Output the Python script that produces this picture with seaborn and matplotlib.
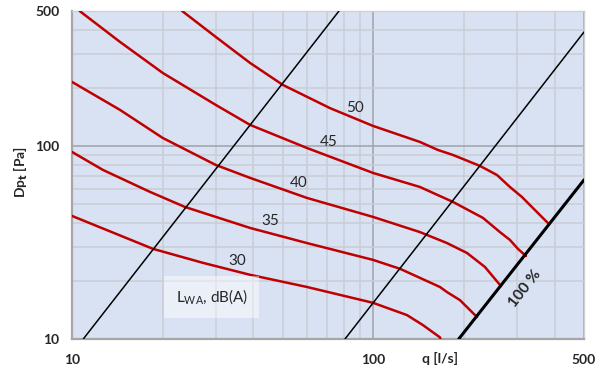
import numpy as np
import pandas as pd
import matplotlib
matplotlib.use("Agg")
import matplotlib.pyplot as plt
from matplotlib.ticker import FixedLocator, NullFormatter, FixedFormatter
import seaborn as sns

# sound level curves (q in l/s, Dp_t in Pa)
q_50 = [23.2, 30.0, 39.0, 50.1, 71.8, 99.7, 142.7, 163.8, 183.7, 225.8,
        257.2, 283.9, 311.2, 338.4, 382.5]
dp_50 = [500, 367, 269, 207, 157, 127, 104.9, 95.3, 89.8, 78.8,
         70.7, 61.3, 54.4, 47.7, 39.4]

q_45 = [10.6, 14.43, 20.0, 30.0, 39.0, 60.2, 99.7, 142.7, 183.7, 231.0,
        263.0, 283.9, 301.8, 320.9]
dp_45 = [500, 345.8, 238.9, 163.1, 128.5, 97.6, 72.5, 61.3, 51.3, 42.4,
         35.8, 32.6, 29.3, 26.9]

q_40 = [10.0, 14.43, 20.0, 30.0, 39.0, 60.2, 99.7, 142.7, 175.5, 204.5,
        234.6, 265.1]
dp_40 = [214.6, 153.7, 110.0, 79.7, 68.3, 53.8, 42.9, 35.8, 31.4, 27.9,
         23.6, 18.8]

q_35 = [10.0, 12.67, 18.15, 23.7, 39.0, 60.2, 99.7, 122.6, 166.3, 175.5,
        193.8, 220.7]
dp_35 = [93.1, 75.1, 57.8, 48.3, 37.6, 31.4, 25.7, 23.1, 18.6, 17.5,
         15.9, 13.0]

q_30 = [10.0, 18.57, 27.2, 39.0, 60.2, 99.7, 129.3, 146.1, 166.3, 167.0]
dp_30 = [43.4, 29.3, 24.8, 21.5, 18.6, 15.4, 13.3, 11.8, 10.2, 10.0]

levels = ["50", "45", "40", "35", "30"]
# label anchor points for each curve
label_q = [86.9, 71.2, 56.6, 45.4, 35.3]
label_dp = [157, 104.9, 64.3, 40.8, 25.4]

# black system lines (Dp ~ q^2)
line1_q = [10.9, 76.9]
line1_dp = [10, 500]
line2_q = [80.5, 500]
line2_dp = [10, 389]
line100_q = [192, 500]
line100_dp = [10, 66.7]

frames = []
for lev, q, dp in zip(levels, [q_50, q_45, q_40, q_35, q_30],
                      [dp_50, dp_45, dp_40, dp_35, dp_30]):
    frames.append(pd.DataFrame({"q": q, "dp": dp, "level": lev}))
df = pd.concat(frames, ignore_index=True)

sns.set_style("white")
plt.rcParams["font.family"] = ["Lato", "DejaVu Sans"]

fig = plt.figure(figsize=(6.05, 3.71), dpi=100)
ax = fig.add_axes([72 / 605, 1 - 339 / 371, 512 / 605, 328 / 371])
ax.set_facecolor("#D9E2F3")
ax.set_xscale("log")
ax.set_yscale("log")
ax.set_xlim(10, 500)
ax.set_ylim(10, 500)

major = [10, 100, 500]
minor = [20, 30, 40, 50, 60, 70, 80, 90, 200, 300, 400]
for axis in (ax.xaxis, ax.yaxis):
    axis.set_major_locator(FixedLocator(major))
    axis.set_major_formatter(FixedFormatter(["10", "100", "500"]))
    axis.set_minor_locator(FixedLocator(minor))
    axis.set_minor_formatter(NullFormatter())
ax.tick_params(which="both", length=0)
ax.tick_params(axis="x", pad=11, labelsize=10)
ax.tick_params(axis="y", pad=9, labelsize=10)
for lab in ax.get_xticklabels() + ax.get_yticklabels():
    lab.set_fontweight("bold")

ax.grid(which="minor", color="#C9CDD4", lw=1.1, zorder=0)
ax.grid(which="major", color="#A3A7AE", lw=1.2, zorder=0)
ax.set_axisbelow(True)

sns.lineplot(data=df, x="q", y="dp", hue="level", estimator=None, sort=False,
             palette=["#C00000"] * 5, lw=1.8, legend=False, ax=ax, zorder=3)

sns.lineplot(x=line1_q, y=line1_dp, color="black", lw=1.1, ax=ax, zorder=4)
sns.lineplot(x=line2_q, y=line2_dp, color="black", lw=1.1, ax=ax, zorder=4)
sns.lineplot(x=line100_q, y=line100_dp, color="black", lw=2.2, ax=ax, zorder=4)

for lev, lq, ld in zip(levels, label_q, label_dp):
    ax.text(lq, ld, lev, fontsize=11, ha="center", va="center", zorder=5)

ax.text(29.1, 16.5, r"L$_{\mathregular{WA}}$, dB(A)", fontsize=11,
        ha="center", va="center", zorder=5,
        bbox=dict(boxstyle="square,pad=0.75", fc="white", ec="none", alpha=0.45))

ax.text(318, 18.2, "100 %", fontsize=11, fontweight="bold", rotation=52,
        ha="center", va="center", zorder=5)

ax.set_xlabel("q [l/s]", fontsize=10, fontweight="bold", va="center")
ax.xaxis.set_label_coords(0.719, -0.058)
ax.set_ylabel(r"Dp$_\mathbf{t}$ [Pa]", fontsize=10, fontweight="bold", va="center")
ax.yaxis.set_label_coords(-0.10, 0.51)

for side in ("left", "bottom"):
    ax.spines[side].set_color("#A6A6A6")
    ax.spines[side].set_linewidth(1.6)
for side in ("top", "right"):
    ax.spines[side].set_color("#D0D0D0")
    ax.spines[side].set_linewidth(1.0)

fig.savefig("out.png", dpi=100)
